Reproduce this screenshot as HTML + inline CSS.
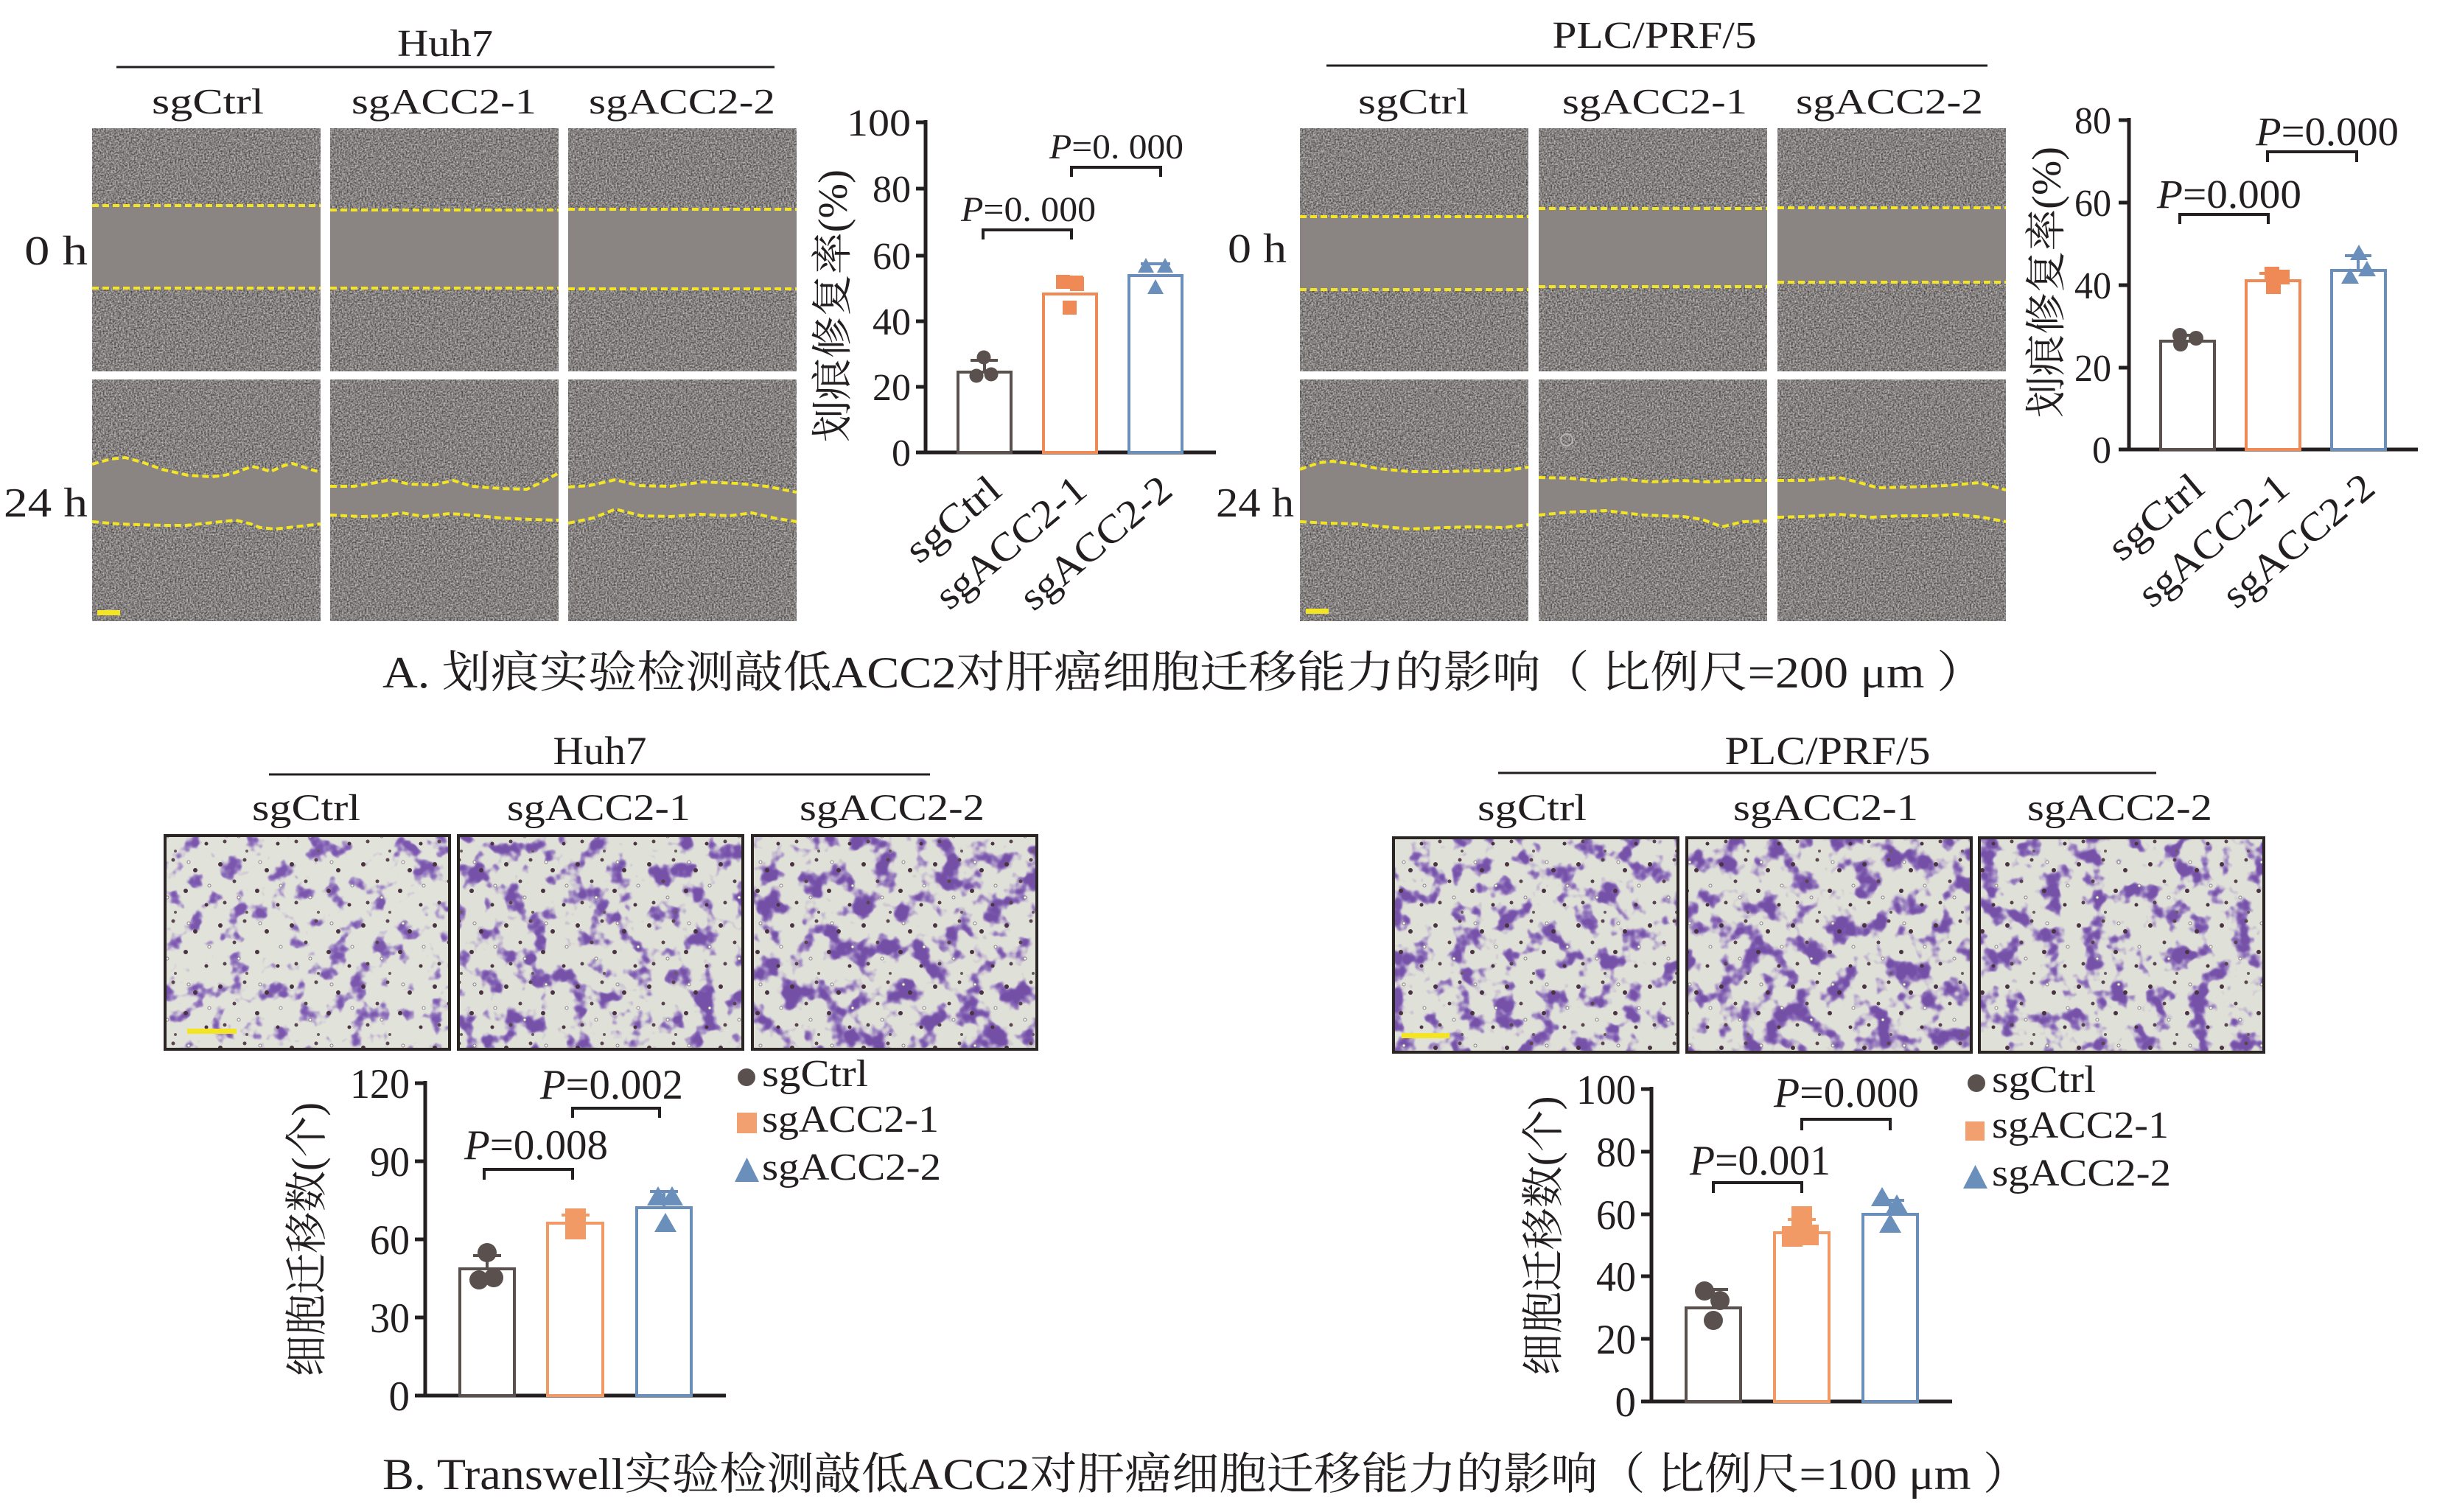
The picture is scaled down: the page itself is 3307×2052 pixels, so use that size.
<!DOCTYPE html>
<html><head><meta charset="utf-8">
<style>
html,body{margin:0;padding:0;background:#fff;}
svg{display:block;}
text{font-family:"Liberation Serif","Noto Serif CJK SC",serif;fill:#231f20;}
</style></head>
<body>
<svg xmlns="http://www.w3.org/2000/svg" width="3307" height="2052" viewBox="0 0 3307 2052">
<defs>
<filter id="grain" x="0" y="0" width="1" height="1" color-interpolation-filters="sRGB">
<feTurbulence type="fractalNoise" baseFrequency="0.45" numOctaves="2" seed="4"/>
<feColorMatrix type="matrix" values="0.8 0 0 0 0.12  0.8 0 0 0 0.105  0.8 0 0 0 0.1  0 0 0 0 1"/>
</filter>
<filter id="tw1" x="0" y="0" width="1" height="1" color-interpolation-filters="sRGB">
<feTurbulence type="fractalNoise" baseFrequency="0.036" numOctaves="3" seed="11" result="n"/>
<feColorMatrix in="n" type="matrix" values="0 0 0 0 0.62 0 0 0 0 0.52 0 0 0 0 0.80 6 0 0 0 -3.3" result="b1"/>
<feColorMatrix in="n" type="matrix" values="0 0 0 0 0.48 0 0 0 0 0.34 0 0 0 0 0.68 7 0 0 0 -4.2" result="b2"/>
<feFlood flood-color="#e1e2d9" result="bg"/>
<feMerge><feMergeNode in="bg"/><feMergeNode in="b1"/><feMergeNode in="b2"/></feMerge>
</filter>
<filter id="tw2" x="0" y="0" width="1" height="1" color-interpolation-filters="sRGB">
<feTurbulence type="fractalNoise" baseFrequency="0.035" numOctaves="3" seed="23" result="n"/>
<feColorMatrix in="n" type="matrix" values="0 0 0 0 0.61 0 0 0 0 0.50 0 0 0 0 0.79 6 0 0 0 -3.1" result="b1"/>
<feColorMatrix in="n" type="matrix" values="0 0 0 0 0.46 0 0 0 0 0.32 0 0 0 0 0.66 7 0 0 0 -4.0" result="b2"/>
<feFlood flood-color="#dfe0d7" result="bg"/>
<feMerge><feMergeNode in="bg"/><feMergeNode in="b1"/><feMergeNode in="b2"/></feMerge>
</filter>
<filter id="tw3" x="0" y="0" width="1" height="1" color-interpolation-filters="sRGB">
<feTurbulence type="fractalNoise" baseFrequency="0.033" numOctaves="3" seed="37" result="n"/>
<feColorMatrix in="n" type="matrix" values="0 0 0 0 0.60 0 0 0 0 0.48 0 0 0 0 0.78 6 0 0 0 -2.95" result="b1"/>
<feColorMatrix in="n" type="matrix" values="0 0 0 0 0.45 0 0 0 0 0.31 0 0 0 0 0.65 7 0 0 0 -3.85" result="b2"/>
<feFlood flood-color="#dfe0d7" result="bg"/>
<feMerge><feMergeNode in="bg"/><feMergeNode in="b1"/><feMergeNode in="b2"/></feMerge>
</filter>
<pattern id="dots" x="0" y="0" width="97" height="83" patternUnits="userSpaceOnUse">
<circle cx="8" cy="11" r="3" fill="#4a3442"/>
<circle cx="41" cy="5" r="2.5" fill="#5a4450"/>
<circle cx="71" cy="19" r="3" fill="#4a3442"/>
<circle cx="27" cy="34" r="2.5" fill="#5a4450"/>
<circle cx="58" cy="47" r="3" fill="#4a3442"/>
<circle cx="14" cy="63" r="2.5" fill="#5a4450"/>
<circle cx="86" cy="66" r="2.5" fill="#4a3442"/>
<circle cx="44" cy="76" r="2" fill="#6a5a60"/>
<circle cx="90" cy="40" r="2" fill="#fff" stroke="#8a8088" stroke-width="1"/>
<circle cx="33" cy="56" r="2" fill="#fff" stroke="#8a8088" stroke-width="1"/>
<circle cx="62" cy="8" r="2" fill="#fff" stroke="#8a8088" stroke-width="1"/>
</pattern>
</defs>

<!-- ================= TOP LEFT: Huh7 scratch ================= -->
<text x="604" y="76" text-anchor="middle" font-size="52" textLength="130" lengthAdjust="spacingAndGlyphs">Huh7</text>
<line x1="158" y1="91" x2="1051" y2="91" stroke="#231f20" stroke-width="3"/>
<text x="206" y="154" font-size="49" textLength="152" lengthAdjust="spacingAndGlyphs">sgCtrl</text>
<text x="477" y="154" font-size="49" textLength="251" lengthAdjust="spacingAndGlyphs">sgACC2-1</text>
<text x="799" y="154" font-size="49" textLength="253" lengthAdjust="spacingAndGlyphs">sgACC2-2</text>
<text x="33" y="359" font-size="56" textLength="86" lengthAdjust="spacingAndGlyphs">0 h</text>
<text x="5" y="701" font-size="56" textLength="114" lengthAdjust="spacingAndGlyphs">24 h</text>

<g>
<rect x="125" y="174" width="310" height="330" filter="url(#grain)"/>
<rect x="125" y="279" width="310" height="112" fill="#8a8582"/>
<rect x="448" y="174" width="310" height="330" filter="url(#grain)"/>
<rect x="448" y="285" width="310" height="106" fill="#8a8582"/>
<rect x="771" y="174" width="310" height="330" filter="url(#grain)"/>
<rect x="771" y="284" width="310" height="108" fill="#8a8582"/>
<g stroke="#f3e424" stroke-width="4" stroke-dasharray="9 5" fill="none">
<line x1="125" y1="279" x2="435" y2="279"/><line x1="125" y1="391" x2="435" y2="391"/>
<line x1="448" y1="285" x2="758" y2="285"/><line x1="448" y1="391" x2="758" y2="391"/>
<line x1="771" y1="284" x2="1081" y2="284"/><line x1="771" y1="392" x2="1081" y2="392"/>
</g>
<rect x="125" y="515" width="310" height="328" filter="url(#grain)"/>
<rect x="448" y="515" width="310" height="328" filter="url(#grain)"/>
<rect x="771" y="515" width="310" height="328" filter="url(#grain)"/>
<polygon fill="#8a8582" points="125,630 150,623 170,621 195,628 220,637 255,645 287,647 305,645 320,641 342,633 355,636 367,640 385,632 397,629 415,635 435,641 435,711 400,715 373,718 353,716 340,711 320,706 290,709 253,713 220,713 187,712 160,711 125,708"/>
<polygon fill="#8a8582" points="448,660 480,660 510,655 530,651 555,657 590,658 615,652 640,660 680,663 715,664 740,652 758,642 758,706 720,705 680,703 640,699 610,697 575,701 545,696 520,700 490,701 448,699"/>
<polygon fill="#8a8582" points="771,661 800,659 835,651 867,659 910,660 954,654 1000,656 1040,660 1081,668 1081,708 1050,703 1020,696 990,700 950,698 910,701 870,700 835,691 805,703 771,710"/>
<g stroke="#f3e424" stroke-width="4" stroke-dasharray="9 5" fill="none" stroke-linejoin="round">
<polyline points="125,630 150,623 170,621 195,628 220,637 255,645 287,647 305,645 320,641 342,633 355,636 367,640 385,632 397,629 415,635 435,641"/>
<polyline points="125,708 160,711 187,712 220,713 253,713 290,709 320,706 340,711 353,716 373,718 400,715 435,711"/>
<polyline points="448,660 480,660 510,655 530,651 555,657 590,658 615,652 640,660 680,663 715,664 740,652 758,642"/>
<polyline points="448,699 490,701 520,700 545,696 575,701 610,697 640,699 680,703 720,705 758,706"/>
<polyline points="771,661 800,659 835,651 867,659 910,660 954,654 1000,656 1040,660 1081,668"/>
<polyline points="771,710 805,703 835,691 870,700 910,701 950,698 990,700 1020,696 1050,703 1081,708"/>
</g>
<rect x="132" y="828" width="31" height="7" fill="#f3e424"/>
</g>

<!-- Huh7 scratch chart -->
<g>
<g stroke="#231f20" stroke-width="5" fill="none">
<line x1="1256" y1="163" x2="1256" y2="616"/>
<line x1="1243" y1="614" x2="1650" y2="614"/>
<line x1="1243" y1="166" x2="1256" y2="166"/>
<line x1="1243" y1="256" x2="1256" y2="256"/>
<line x1="1243" y1="347" x2="1256" y2="347"/>
<line x1="1243" y1="436" x2="1256" y2="436"/>
<line x1="1243" y1="525" x2="1256" y2="525"/>
</g>
<g font-size="52" text-anchor="end">
<text x="1236" y="184" textLength="87" lengthAdjust="spacingAndGlyphs">100</text>
<text x="1236" y="274">80</text>
<text x="1236" y="365">60</text>
<text x="1236" y="454">40</text>
<text x="1236" y="543">20</text>
<text x="1236" y="632">0</text>
</g>
<text transform="translate(1149,415) rotate(-90)" text-anchor="middle" font-size="56" textLength="370" lengthAdjust="spacingAndGlyphs">划痕修复率(%)</text>
<rect x="1300" y="505" width="72" height="109" fill="#fff" stroke="#5a504e" stroke-width="4"/>
<rect x="1416" y="399" width="72" height="215" fill="#fff" stroke="#ef8a56" stroke-width="4"/>
<rect x="1532" y="374" width="72" height="240" fill="#fff" stroke="#6a8fbb" stroke-width="4"/>
<g stroke-width="4">
<line x1="1317" y1="489" x2="1354" y2="489" stroke="#5a504e"/><line x1="1336" y1="489" x2="1336" y2="505" stroke="#5a504e"/>
<line x1="1434" y1="376" x2="1470" y2="376" stroke="#ef8a56"/>
<line x1="1548" y1="358" x2="1588" y2="358" stroke="#6a8fbb"/>
</g>
<g fill="#5a504e"><circle cx="1335" cy="485" r="9.5"/><circle cx="1325" cy="510" r="9.5"/><circle cx="1345" cy="508" r="9.5"/></g>
<g fill="#ef8a56"><rect x="1433" y="373" width="19" height="19"/><rect x="1452" y="376" width="19" height="19"/><rect x="1442" y="408" width="19" height="19"/></g>
<g fill="#6a8fbb"><polygon points="1544,370 1566,370 1555,350"/><polygon points="1570,370 1592,370 1581,350"/><polygon points="1557,399 1579,399 1568,379"/></g>
<path d="M1334,325 V312 H1454 V325" stroke="#231f20" stroke-width="4" fill="none"/>
<path d="M1454,240 V227 H1575 V240" stroke="#231f20" stroke-width="4" fill="none"/>
<text x="1304" y="300" font-size="48" textLength="183" lengthAdjust="spacingAndGlyphs"><tspan font-style="italic">P</tspan>=0.&#160;000</text>
<text x="1424" y="215" font-size="48" textLength="182" lengthAdjust="spacingAndGlyphs"><tspan font-style="italic">P</tspan>=0.&#160;000</text>
<g font-size="54" text-anchor="end">
<text transform="translate(1362,670) rotate(-40)" textLength="150" lengthAdjust="spacingAndGlyphs">sgCtrl</text>
<text transform="translate(1478,670) rotate(-40)" textLength="248" lengthAdjust="spacingAndGlyphs">sgACC2-1</text>
<text transform="translate(1594,670) rotate(-40)" textLength="250" lengthAdjust="spacingAndGlyphs">sgACC2-2</text>
</g>
</g>

<!-- ================= TOP RIGHT: PLC scratch ================= -->
<text x="2245" y="65" text-anchor="middle" font-size="52" textLength="277" lengthAdjust="spacingAndGlyphs">PLC/PRF/5</text>
<line x1="1800" y1="89" x2="2697" y2="89" stroke="#231f20" stroke-width="3"/>
<text x="1843" y="154" font-size="49" textLength="150" lengthAdjust="spacingAndGlyphs">sgCtrl</text>
<text x="2120" y="154" font-size="49" textLength="251" lengthAdjust="spacingAndGlyphs">sgACC2-1</text>
<text x="2437" y="154" font-size="49" textLength="254" lengthAdjust="spacingAndGlyphs">sgACC2-2</text>
<text x="1666" y="356" font-size="56" textLength="80" lengthAdjust="spacingAndGlyphs">0 h</text>
<text x="1650" y="701" font-size="56" textLength="106" lengthAdjust="spacingAndGlyphs">24 h</text>
<g>
<rect x="1764" y="174" width="310" height="330" filter="url(#grain)"/>
<rect x="1764" y="294" width="310" height="99" fill="#8a8582"/>
<rect x="2088" y="174" width="310" height="330" filter="url(#grain)"/>
<rect x="2088" y="283" width="310" height="106" fill="#8a8582"/>
<rect x="2412" y="174" width="310" height="330" filter="url(#grain)"/>
<rect x="2412" y="282" width="310" height="101" fill="#8a8582"/>
<g stroke="#f3e424" stroke-width="4" stroke-dasharray="9 5" fill="none">
<line x1="1764" y1="294" x2="2074" y2="294"/><line x1="1764" y1="393" x2="2074" y2="393"/>
<line x1="2088" y1="283" x2="2398" y2="283"/><line x1="2088" y1="389" x2="2398" y2="389"/>
<line x1="2412" y1="282" x2="2722" y2="282"/><line x1="2412" y1="383" x2="2722" y2="383"/>
</g>
<rect x="1764" y="515" width="310" height="328" filter="url(#grain)"/>
<rect x="2088" y="515" width="310" height="328" filter="url(#grain)"/>
<rect x="2412" y="515" width="310" height="328" filter="url(#grain)"/>
<polygon fill="#8a8582" points="1764,637 1790,628 1808,626 1840,630 1870,636 1914,640 1960,640 2000,639 2040,639 2074,634 2074,712 2040,716 2000,715 1960,716 1914,718 1880,715 1840,711 1800,710 1764,708"/>
<polygon fill="#8a8582" points="2088,648 2130,649 2170,653 2200,650 2240,654 2280,652 2320,654 2360,652 2398,652 2398,707 2365,708 2337,715 2310,705 2284,701 2230,699 2178,693 2130,695 2088,699"/>
<polygon fill="#8a8582" points="2412,652 2450,652 2495,648 2520,654 2548,662 2590,661 2640,659 2686,655 2722,665 2722,708 2690,702 2654,698 2620,700 2580,700 2540,702 2495,698 2450,701 2412,702"/>
<g stroke="#f3e424" stroke-width="4" stroke-dasharray="9 5" fill="none" stroke-linejoin="round">
<polyline points="1764,637 1790,628 1808,626 1840,630 1870,636 1914,640 1960,640 2000,639 2040,639 2074,634"/>
<polyline points="1764,708 1800,710 1840,711 1880,715 1914,718 1960,716 2000,715 2040,716 2074,712"/>
<polyline points="2088,648 2130,649 2170,653 2200,650 2240,654 2280,652 2320,654 2360,652 2398,652"/>
<polyline points="2088,699 2130,695 2178,693 2230,699 2284,701 2310,705 2337,715 2365,708 2398,707"/>
<polyline points="2412,652 2450,652 2495,648 2520,654 2548,662 2590,661 2640,659 2686,655 2722,665"/>
<polyline points="2412,702 2450,701 2495,698 2540,702 2580,700 2620,700 2654,698 2690,702 2722,708"/>
</g>
<circle cx="2126" cy="597" r="8" fill="none" stroke="#b8b4b0" stroke-width="2"/>
<rect x="1772" y="826" width="31" height="7" fill="#f3e424"/>
</g>

<!-- PLC scratch chart -->
<g>
<g stroke="#231f20" stroke-width="5" fill="none">
<line x1="2889" y1="160" x2="2889" y2="612"/>
<line x1="2875" y1="610" x2="3281" y2="610"/>
<line x1="2875" y1="163" x2="2889" y2="163"/>
<line x1="2875" y1="275" x2="2889" y2="275"/>
<line x1="2875" y1="387" x2="2889" y2="387"/>
<line x1="2875" y1="499" x2="2889" y2="499"/>
</g>
<g font-size="52" text-anchor="end">
<text x="2865" y="181" textLength="50" lengthAdjust="spacingAndGlyphs">80</text>
<text x="2865" y="293" textLength="50" lengthAdjust="spacingAndGlyphs">60</text>
<text x="2865" y="405" textLength="50" lengthAdjust="spacingAndGlyphs">40</text>
<text x="2865" y="517" textLength="50" lengthAdjust="spacingAndGlyphs">20</text>
<text x="2865" y="628">0</text>
</g>
<text transform="translate(2796,383) rotate(-90)" text-anchor="middle" font-size="56" textLength="368" lengthAdjust="spacingAndGlyphs">划痕修复率(%)</text>
<rect x="2932" y="463" width="73" height="147" fill="#fff" stroke="#5a504e" stroke-width="4"/>
<rect x="3048" y="381" width="73" height="229" fill="#fff" stroke="#ef8a56" stroke-width="4"/>
<rect x="3164" y="367" width="73" height="243" fill="#fff" stroke="#6a8fbb" stroke-width="4"/>
<g stroke-width="4">
<line x1="2950" y1="455" x2="2986" y2="455" stroke="#5a504e"/>
<line x1="3066" y1="371" x2="3102" y2="371" stroke="#ef8a56"/>
<line x1="3182" y1="347" x2="3218" y2="347" stroke="#6a8fbb"/><line x1="3200" y1="347" x2="3200" y2="367" stroke="#6a8fbb"/>
</g>
<g fill="#5a504e"><circle cx="2958" cy="455" r="10"/><circle cx="2980" cy="459" r="10"/><circle cx="2959" cy="467" r="10"/></g>
<g fill="#ef8a56"><rect x="3073" y="362" width="20" height="20"/><rect x="3087" y="366" width="20" height="20"/><rect x="3075" y="379" width="20" height="20"/></g>
<g fill="#6a8fbb"><polygon points="3189,353 3213,353 3201,332"/><polygon points="3177,385 3201,385 3189,364"/><polygon points="3200,375 3224,375 3212,354"/></g>
<path d="M2958,304 V291 H3078 V304" stroke="#231f20" stroke-width="4" fill="none"/>
<path d="M3077,220 V206 H3198 V220" stroke="#231f20" stroke-width="4" fill="none"/>
<text x="2927" y="282" font-size="55" textLength="196" lengthAdjust="spacingAndGlyphs"><tspan font-style="italic">P</tspan>=0.000</text>
<text x="3061" y="197" font-size="55" textLength="194" lengthAdjust="spacingAndGlyphs"><tspan font-style="italic">P</tspan>=0.000</text>
<g font-size="54" text-anchor="end">
<text transform="translate(2994,667) rotate(-40)" textLength="150" lengthAdjust="spacingAndGlyphs">sgCtrl</text>
<text transform="translate(3110,667) rotate(-40)" textLength="248" lengthAdjust="spacingAndGlyphs">sgACC2-1</text>
<text transform="translate(3226,667) rotate(-40)" textLength="250" lengthAdjust="spacingAndGlyphs">sgACC2-2</text>
</g>
</g>

<!-- Caption A -->
<text x="519" y="933" font-size="60" textLength="2175" lengthAdjust="spacingAndGlyphs">A. 划痕实验检测敲低ACC2对肝癌细胞迁移能力的影响（ 比例尺=200 μm ）</text>

<!-- ================= BOTTOM LEFT: Huh7 transwell ================= -->
<text x="814" y="1037" text-anchor="middle" font-size="54" textLength="127" lengthAdjust="spacingAndGlyphs">Huh7</text>
<line x1="365" y1="1051" x2="1262" y2="1051" stroke="#231f20" stroke-width="3"/>
<text x="342" y="1113" font-size="51" textLength="147" lengthAdjust="spacingAndGlyphs">sgCtrl</text>
<text x="688" y="1113" font-size="51" textLength="249" lengthAdjust="spacingAndGlyphs">sgACC2-1</text>
<text x="1085" y="1113" font-size="51" textLength="251" lengthAdjust="spacingAndGlyphs">sgACC2-2</text>
<g>
<rect x="224" y="1134" width="386" height="290" filter="url(#tw1)"/>
<rect x="224" y="1134" width="386" height="290" fill="url(#dots)"/>
<rect x="622" y="1134" width="386" height="290" filter="url(#tw2)"/>
<rect x="622" y="1134" width="386" height="290" fill="url(#dots)"/>
<rect x="1021" y="1134" width="386" height="290" filter="url(#tw3)"/>
<rect x="1021" y="1134" width="386" height="290" fill="url(#dots)"/>
<g fill="none" stroke="#2b2523" stroke-width="4">
<rect x="224" y="1134" width="386" height="290"/>
<rect x="622" y="1134" width="386" height="290"/>
<rect x="1021" y="1134" width="386" height="290"/>
</g>
<rect x="254" y="1396" width="67" height="7" fill="#f3e424"/>
</g>

<!-- Huh7 transwell chart -->
<g>
<g stroke="#231f20" stroke-width="5" fill="none">
<line x1="577" y1="1467" x2="577" y2="1896"/>
<line x1="563" y1="1894" x2="985" y2="1894"/>
<line x1="563" y1="1470" x2="577" y2="1470"/>
<line x1="563" y1="1576" x2="577" y2="1576"/>
<line x1="563" y1="1682" x2="577" y2="1682"/>
<line x1="563" y1="1788" x2="577" y2="1788"/>
</g>
<g font-size="57" text-anchor="end">
<text x="556" y="1490" textLength="81" lengthAdjust="spacingAndGlyphs">120</text>
<text x="556" y="1596" textLength="54" lengthAdjust="spacingAndGlyphs">90</text>
<text x="556" y="1702" textLength="54" lengthAdjust="spacingAndGlyphs">60</text>
<text x="556" y="1808" textLength="54" lengthAdjust="spacingAndGlyphs">30</text>
<text x="556" y="1914">0</text>
</g>
<text transform="translate(436,1682) rotate(-90)" text-anchor="middle" font-size="58" textLength="372" lengthAdjust="spacingAndGlyphs">细胞迁移数(个)</text>
<rect x="624" y="1722" width="74" height="172" fill="#fff" stroke="#5a504e" stroke-width="4"/>
<rect x="743" y="1660" width="75" height="234" fill="#fff" stroke="#f19a66" stroke-width="4"/>
<rect x="864" y="1639" width="74" height="255" fill="#fff" stroke="#6a8fbb" stroke-width="4"/>
<g stroke-width="4">
<line x1="642" y1="1704" x2="680" y2="1704" stroke="#5a504e"/><line x1="661" y1="1704" x2="661" y2="1722" stroke="#5a504e"/>
<line x1="762" y1="1649" x2="800" y2="1649" stroke="#f19a66"/><line x1="781" y1="1649" x2="781" y2="1660" stroke="#f19a66"/>
<line x1="882" y1="1617" x2="920" y2="1617" stroke="#6a8fbb"/><line x1="901" y1="1617" x2="901" y2="1639" stroke="#6a8fbb"/>
</g>
<g fill="#5a504e"><circle cx="661" cy="1700" r="13"/><circle cx="650" cy="1737" r="13"/><circle cx="670" cy="1734" r="13"/></g>
<g fill="#f19a66"><rect x="767" y="1640" width="28" height="28"/><rect x="767" y="1654" width="28" height="28"/></g>
<g fill="#6a8fbb"><polygon points="878,1636 908,1636 893,1610"/><polygon points="897,1636 927,1636 912,1610"/><polygon points="888,1672 918,1672 903,1646"/></g>
<path d="M657,1601 V1587 H777 V1601" stroke="#231f20" stroke-width="4" fill="none"/>
<path d="M777,1517 V1504 H895 V1517" stroke="#231f20" stroke-width="4" fill="none"/>
<text x="630" y="1573" font-size="57" textLength="195" lengthAdjust="spacingAndGlyphs"><tspan font-style="italic">P</tspan>=0.008</text>
<text x="733" y="1491" font-size="57" textLength="194" lengthAdjust="spacingAndGlyphs"><tspan font-style="italic">P</tspan>=0.002</text>
<circle cx="1013" cy="1462" r="12" fill="#5a504e"/>
<text x="1034" y="1474" font-size="52" textLength="144" lengthAdjust="spacingAndGlyphs">sgCtrl</text>
<rect x="1000" y="1510" width="27" height="28" fill="#f3a070"/>
<text x="1034" y="1536" font-size="52" textLength="240" lengthAdjust="spacingAndGlyphs">sgACC2-1</text>
<polygon points="997,1604 1030,1604 1013.5,1571" fill="#6a8fbb"/>
<text x="1034" y="1601" font-size="52" textLength="243" lengthAdjust="spacingAndGlyphs">sgACC2-2</text>
</g>

<!-- ================= BOTTOM RIGHT: PLC transwell ================= -->
<text x="2480" y="1037" text-anchor="middle" font-size="54" textLength="279" lengthAdjust="spacingAndGlyphs">PLC/PRF/5</text>
<line x1="2033" y1="1049" x2="2926" y2="1049" stroke="#231f20" stroke-width="3"/>
<text x="2005" y="1113" font-size="51" textLength="148" lengthAdjust="spacingAndGlyphs">sgCtrl</text>
<text x="2352" y="1113" font-size="51" textLength="251" lengthAdjust="spacingAndGlyphs">sgACC2-1</text>
<text x="2751" y="1113" font-size="51" textLength="251" lengthAdjust="spacingAndGlyphs">sgACC2-2</text>
<g>
<rect x="1891" y="1137" width="386" height="291" filter="url(#tw2)"/>
<rect x="1891" y="1137" width="386" height="291" fill="url(#dots)"/>
<rect x="2289" y="1137" width="386" height="291" filter="url(#tw3)"/>
<rect x="2289" y="1137" width="386" height="291" fill="url(#dots)"/>
<rect x="2686" y="1137" width="386" height="291" filter="url(#tw2)"/>
<rect x="2686" y="1137" width="386" height="291" fill="url(#dots)"/>
<g fill="none" stroke="#2b2523" stroke-width="4">
<rect x="1891" y="1137" width="386" height="291"/>
<rect x="2289" y="1137" width="386" height="291"/>
<rect x="2686" y="1137" width="386" height="291"/>
</g>
<rect x="1902" y="1402" width="65" height="7" fill="#f3e424"/>
</g>

<!-- PLC transwell chart -->
<g>
<g stroke="#231f20" stroke-width="5" fill="none">
<line x1="2241" y1="1475" x2="2241" y2="1904"/>
<line x1="2227" y1="1902" x2="2649" y2="1902"/>
<line x1="2227" y1="1478" x2="2241" y2="1478"/>
<line x1="2227" y1="1563" x2="2241" y2="1563"/>
<line x1="2227" y1="1648" x2="2241" y2="1648"/>
<line x1="2227" y1="1732" x2="2241" y2="1732"/>
<line x1="2227" y1="1817" x2="2241" y2="1817"/>
</g>
<g font-size="57" text-anchor="end">
<text x="2220" y="1498" textLength="81" lengthAdjust="spacingAndGlyphs">100</text>
<text x="2220" y="1583" textLength="54" lengthAdjust="spacingAndGlyphs">80</text>
<text x="2220" y="1668" textLength="54" lengthAdjust="spacingAndGlyphs">60</text>
<text x="2220" y="1752" textLength="54" lengthAdjust="spacingAndGlyphs">40</text>
<text x="2220" y="1837" textLength="54" lengthAdjust="spacingAndGlyphs">20</text>
<text x="2220" y="1922">0</text>
</g>
<text transform="translate(2114,1677) rotate(-90)" text-anchor="middle" font-size="58" textLength="379" lengthAdjust="spacingAndGlyphs">细胞迁移数(个)</text>
<rect x="2288" y="1775" width="74" height="127" fill="#fff" stroke="#5a504e" stroke-width="4"/>
<rect x="2408" y="1673" width="74" height="229" fill="#fff" stroke="#f19a66" stroke-width="4"/>
<rect x="2528" y="1648" width="74" height="254" fill="#fff" stroke="#6a8fbb" stroke-width="4"/>
<g stroke-width="4">
<line x1="2305" y1="1750" x2="2345" y2="1750" stroke="#5a504e"/><line x1="2325" y1="1750" x2="2325" y2="1775" stroke="#5a504e"/>
<line x1="2426" y1="1655" x2="2464" y2="1655" stroke="#f19a66"/><line x1="2445" y1="1655" x2="2445" y2="1673" stroke="#f19a66"/>
<line x1="2546" y1="1629" x2="2584" y2="1629" stroke="#6a8fbb"/><line x1="2565" y1="1629" x2="2565" y2="1648" stroke="#6a8fbb"/>
</g>
<g fill="#5a504e"><circle cx="2313" cy="1752" r="13"/><circle cx="2334" cy="1765" r="13"/><circle cx="2325" cy="1792" r="13"/></g>
<g fill="#f19a66"><rect x="2431" y="1637" width="28" height="28"/><rect x="2418" y="1664" width="28" height="28"/><rect x="2440" y="1662" width="28" height="28"/></g>
<g fill="#6a8fbb"><polygon points="2539,1637 2569,1637 2554,1611"/><polygon points="2559,1647 2589,1647 2574,1621"/><polygon points="2550,1673 2580,1673 2565,1647"/></g>
<path d="M2325,1619 V1605 H2445 V1619" stroke="#231f20" stroke-width="4" fill="none"/>
<path d="M2445,1534 V1519 H2565 V1534" stroke="#231f20" stroke-width="4" fill="none"/>
<text x="2293" y="1594" font-size="57" textLength="191" lengthAdjust="spacingAndGlyphs"><tspan font-style="italic">P</tspan>=0.001</text>
<text x="2407" y="1502" font-size="57" textLength="197" lengthAdjust="spacingAndGlyphs"><tspan font-style="italic">P</tspan>=0.000</text>
<circle cx="2682" cy="1470" r="12" fill="#5a504e"/>
<text x="2703" y="1482" font-size="52" textLength="141" lengthAdjust="spacingAndGlyphs">sgCtrl</text>
<rect x="2667" y="1522" width="26" height="26" fill="#f3a070"/>
<text x="2703" y="1544" font-size="52" textLength="240" lengthAdjust="spacingAndGlyphs">sgACC2-1</text>
<polygon points="2664,1613 2697,1613 2680.5,1581" fill="#6a8fbb"/>
<text x="2703" y="1609" font-size="52" textLength="243" lengthAdjust="spacingAndGlyphs">sgACC2-2</text>
</g>

<!-- Caption B -->
<text x="519" y="2021" font-size="60" textLength="2236" lengthAdjust="spacingAndGlyphs">B. Transwell实验检测敲低ACC2对肝癌细胞迁移能力的影响（ 比例尺=100 μm ）</text>
</svg>
</body></html>
